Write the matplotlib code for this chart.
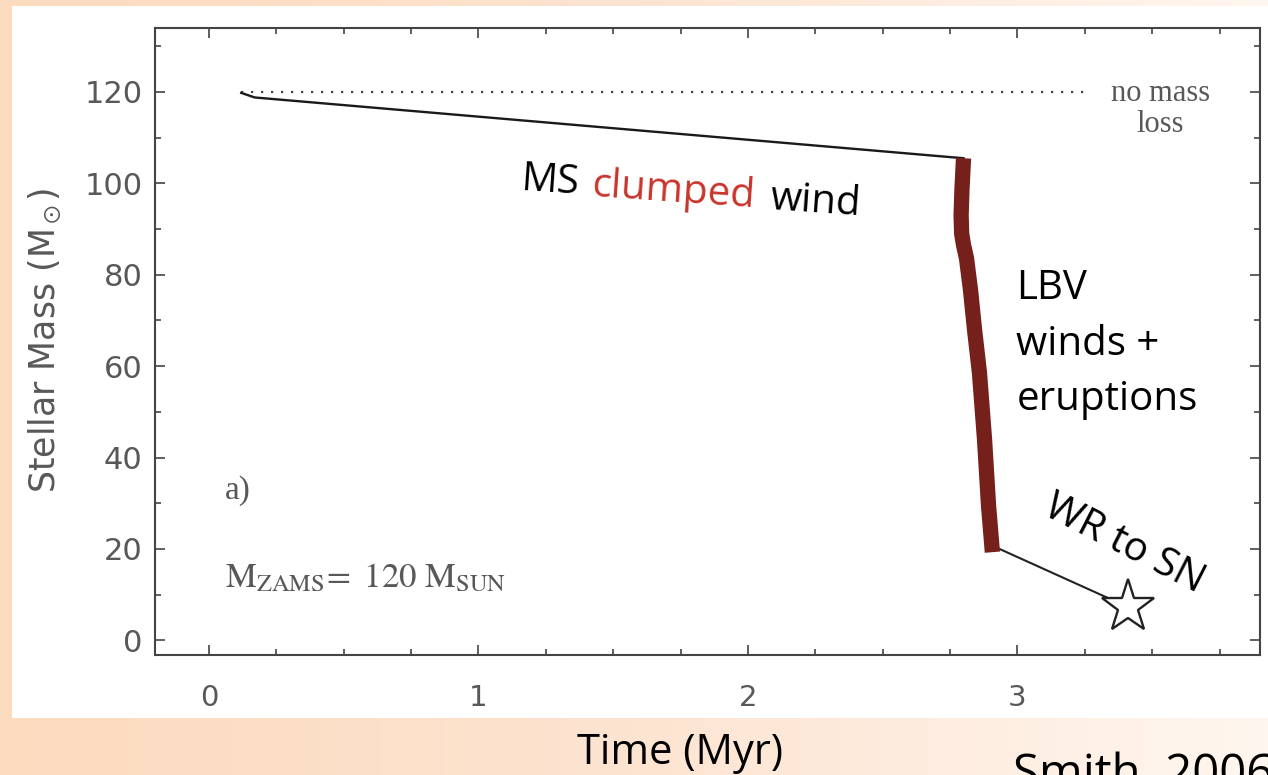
import numpy as np
import matplotlib.pyplot as plt
from matplotlib.patches import Rectangle
from matplotlib.ticker import MultipleLocator

# values
no_loss_time = [0.12, 3.26]
no_loss_mass = [120.0, 120.0]

ms_time = [0.12, 0.17, 2.80]
ms_mass = [119.8, 118.8, 105.5]

lbv_time = [2.800, 2.794, 2.791, 2.793, 2.800, 2.811, 2.826, 2.841, 2.859, 2.878, 2.893, 2.907]
lbv_mass = [105.5, 98.5, 93.0, 89.0, 86.5, 83.6, 76.6, 67.9, 58.6, 43.9, 29.3, 19.3]

wr_time = [2.885, 2.90, 3.41]
wr_mass = [22.5, 20.9, 7.3]

sn_time = [3.41]
sn_mass = [7.3]

x_ticks = [0, 1, 2, 3]
y_ticks = [0, 20, 40, 60, 80, 100, 120]

W, H = 1268, 775
fig = plt.figure(figsize=(W / 100, H / 100), dpi=100)
plt.rcParams['mathtext.fontset'] = 'stix'

# peach slide background with the white scanned panel on top
bg = fig.add_axes([0, 0, 1, 1])
bg.axis('off')
stops = np.array([[252, 218, 190], [253, 228, 209], [255, 246, 239]]) / 255.0
xs = np.linspace(0, 1, 400)
row = np.stack([np.interp(xs, [0, 0.5, 1], stops[:, k]) for k in range(3)], axis=-1)
bg.imshow(row[np.newaxis, :, :], aspect='auto', extent=[0, 1, 0, 1])
bg.add_patch(Rectangle((12 / W, 1 - 718 / H), 1 - 12 / W, (718 - 6) / H,
                       facecolor='white', edgecolor='none'))
bg.set_xlim(0, 1)
bg.set_ylim(0, 1)

ax = fig.add_axes([155 / W, 1 - 655 / H, (1260 - 155) / W, (655 - 28) / H])
ax.set_facecolor('white')

gray = '#585858'
ax.plot(no_loss_time, no_loss_mass, linestyle=(0, (1, 3.5)), color='#444444', lw=1.6)
ax.plot(ms_time, ms_mass, color='#1a1a1a', lw=1.7)
ax.plot(wr_time, wr_mass, color='#222222', lw=1.5)
ax.plot(lbv_time, lbv_mass, color='#76201c', lw=11, solid_capstyle='butt',
        solid_joinstyle='round')
ax.plot(sn_time, sn_mass, marker='*', ms=40, mfc='white', mec='#222222', mew=1.7,
        linestyle='none')

ax.set_xlim(-0.2, 3.9)
ax.set_ylim(-3.2, 134)
ax.set_xticks(x_ticks)
ax.set_yticks(y_ticks)
ax.xaxis.set_minor_locator(MultipleLocator(0.25))
ax.yaxis.set_minor_locator(MultipleLocator(10))
ax.tick_params(which='both', direction='in', top=True, right=True, color='#444444',
               width=1.2)
ax.tick_params(which='major', length=7)
ax.tick_params(which='minor', length=4)
ax.tick_params(axis='x', pad=21, labelsize=21, labelcolor=gray)
ax.tick_params(axis='y', pad=9, labelsize=22, labelcolor=gray)
for sp in ax.spines.values():
    sp.set_color('#444444')
    sp.set_linewidth(1.5)

fig.text(45 / W, 1 - 340 / H, r'Stellar Mass (M$_\odot$)', rotation=90,
         ha='center', va='center', fontsize=25, color=gray)

# original figure annotations (serif)
serif = 'Liberation Serif'
ax.text(3.53, 116.2, 'no mass\nloss', ha='center', va='center', family=serif,
        fontsize=22, color=gray, linespacing=1.1)
ax.text(0.107, 32.7, 'a)', ha='center', va='center', family=serif,
        fontsize=24, color=gray)
ax.text(0.059, 13.9, r'$\mathrm{M_{ZAMS}\!=\ 120\ M_{SUN}}$', ha='left', va='center',
        fontsize=25, color=gray)

# slide annotations
sans = ['Open Sans', 'DejaVu Sans']
ax.text(1.156, 98.5, 'MS', family=sans, fontsize=29, rotation=-4,
        rotation_mode='anchor', ha='left', va='baseline', color='black')
ax.text(1.419, 97.2, 'clumped', family=sans, fontsize=29, rotation=-4,
        rotation_mode='anchor', ha='left', va='baseline', color='#c8352c')
ax.text(2.081, 94.5, 'wind', family=sans, fontsize=29, rotation=-4,
        rotation_mode='anchor', ha='left', va='baseline', color='black')
ax.text(2.996, 81.4, 'LBV\nwinds +\neruptions', family=sans, fontsize=29,
        ha='left', va='top', color='black', linespacing=1.5)
ax.text(3.396, 20.9, 'WR to SN', family=sans, fontsize=29, rotation=-27,
        rotation_mode='anchor', ha='center', va='center', color='black')

fig.text(680 / W, 1 - 764 / H, 'Time (Myr)', family=sans, fontsize=30,
         ha='center', va='baseline', color='black')
fig.text(1013 / W, 1 - 788 / H, 'Smith, 2006', family=sans, fontsize=34,
         ha='left', va='baseline', color='black')

fig.savefig('out.png', dpi=100)
